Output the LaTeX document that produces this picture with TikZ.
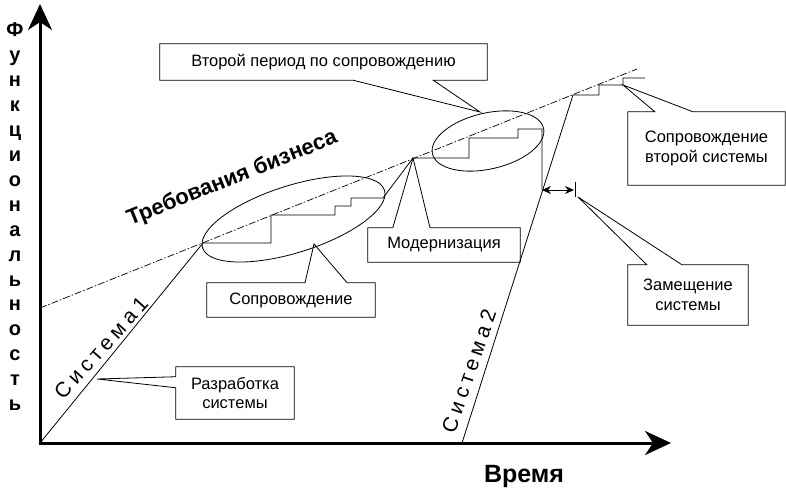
\documentclass[tikz,border=0pt]{standalone}
\usepackage{fontspec}
\setmainfont{Liberation Sans}
\newfontfamily\spacedfont[LetterSpace=22]{Liberation Sans}
\usetikzlibrary{arrows.meta,calc}

\tikzset{
  lbl/.style={font=\fontsize{16.5}{19.5}\selectfont, align=center, inner sep=0pt},
  axis/.style={line width=3pt, -{Stealth[length=26pt,width=24pt,inset=8pt]}},
  req/.style={line width=0.7pt, dash pattern=on 7pt off 2pt on 1.5pt off 2pt},
  ln/.style={line width=0.8pt},
  sysname/.style={font=\spacedfont\fontsize{21}{21}\selectfont},
}

\begin{document}
\begin{tikzpicture}[x=1pt,y=-1pt]
\useasboundingbox (0,0) rectangle (786,494);
% Оси
\coordinate (O) at (40,443);
\coordinate (ytop) at (40,4);
\coordinate (xend) at (671,443);
\draw[axis] (40,444.5) -- (ytop);
\draw[axis] (38.5,443) -- (xend);
\node[font=\bfseries\fontsize{25}{25}\selectfont, anchor=base] (vremya) at (524,482) {Время};
\foreach \l [count=\i from 0] in {Ф,у,н,к,ц,и,о,н,а,л,ь,н,о,с,т,ь}
  \node[font=\bfseries\fontsize{20}{20}\selectfont, anchor=base] (f\i) at (15,{37+24.9*\i}) {\l};

% Требования бизнеса
\coordinate (r0) at (40,308);
\coordinate (r1) at (637,69);
\draw[req] (r0) -- (r1);
\node[font=\bfseries\fontsize{22}{22}\selectfont, rotate=21.8, anchor=base west] (treb) at (127,227) {Требования бизнеса};

% Система 1 и Система 2
\draw[ln] (O) -- (203,243) -- (271,243) -- (271,215) -- (335,215) -- (335,206) -- (351,206) -- (351,198) -- (383,198) -- (413,158) -- (469,158) -- (469,138) -- (518,138) -- (518,129) -- (542,129) -- (542,190);
\draw[ln] (462,443) -- (573,95) -- (599,95) -- (599,85) -- (623,85) -- (623,78) -- (645,78);
\node[sysname, rotate=48] (sys1) at (101,348) {Система1};
\node[sysname, rotate=71] (sys2) at (469,371) {Система2};

% Периоды сопровождения
\draw[ln, rotate around={17.6:(293.5,219)}] (293.5,219) ellipse [x radius=95.4, y radius=33.5];
\draw[ln, rotate around={13:(488,141)}] (488,141) ellipse [x radius=57, y radius=28];

% Замещение
\draw[ln, {Stealth[length=9pt,width=8pt]}-{Stealth[length=9pt,width=8pt]}] (542,190) -- (574,190);
\draw[ln] (575,182) -- (575,197);

% Выноски
\node[lbl, minimum width=327pt, minimum height=36pt] (vtor) at (323.5,62) {Второй период по сопровождению};
\coordinate (tvtor) at (480,112);
\draw[ln] (vtor.south west) -- ($(vtor.south west)!0.59!(vtor.south east)$) -- (tvtor) -- ($(vtor.south west)!0.835!(vtor.south east)$) -- (vtor.south east) |- (vtor.north west) -- cycle;

\node[lbl, minimum width=168pt, minimum height=34pt] (sopr) at (291,300) {Сопровождение};
\coordinate (tsopr) at (314,244);
\draw[ln] (sopr.north west) -- ($(sopr.north west)!0.583!(sopr.north east)$) -- (tsopr) -- ($(sopr.north west)!0.833!(sopr.north east)$) -- (sopr.north east) |- (sopr.south west) -- cycle;

\node[lbl, minimum width=152pt, minimum height=34pt] (modern) at (444,245) {Модернизация};
\coordinate (tmodern) at (413,158);
\draw[ln] (modern.north west) -- ($(modern.north west)!0.164!(modern.north east)$) -- (tmodern) -- ($(modern.north west)!0.408!(modern.north east)$) -- (modern.north east) |- (modern.south west) -- cycle;

\node[lbl, minimum width=157pt, minimum height=73pt] (vtorsys) at (706.5,148.5) {Сопровождение\\второй системы};
\coordinate (tvtorsys) at (623,85);
\draw[ln] (vtorsys.north west) -- ($(vtorsys.north west)!0.172!(vtorsys.north east)$) -- (tvtorsys) -- ($(vtorsys.north west)!0.414!(vtorsys.north east)$) -- (vtorsys.north east) |- (vtorsys.south west) -- cycle;

\node[lbl, minimum width=120pt, minimum height=60pt] (zamesh) at (688,295) {Замещение\\системы};
\coordinate (tzamesh) at (578,197);
\draw[ln] (zamesh.north west) -- ($(zamesh.north west)!0.158!(zamesh.north east)$) -- (tzamesh) -- ($(zamesh.north west)!0.45!(zamesh.north east)$) -- (zamesh.north east) |- (zamesh.south west) -- cycle;

\node[lbl, minimum width=118pt, minimum height=52pt] (razr) at (235,393) {Разработка\\системы};
\coordinate (trazr) at (97,379);
\draw[ln] (razr.north west) -- ($(razr.north west)!0.19!(razr.south west)$) -- (trazr) -- ($(razr.north west)!0.40!(razr.south west)$) -- (razr.south west) -| (razr.north east) -- cycle;
\end{tikzpicture}
\end{document}
